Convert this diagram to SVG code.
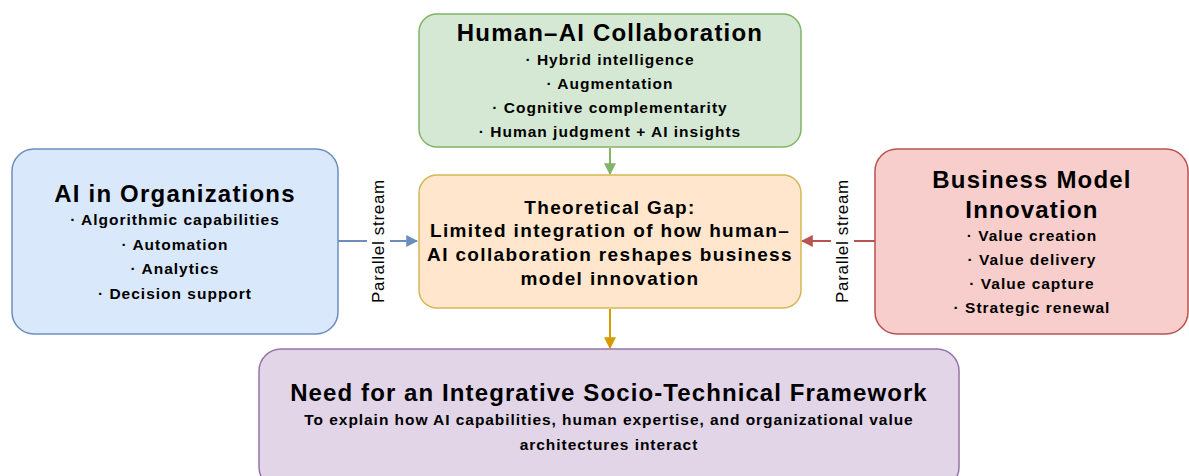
<svg xmlns="http://www.w3.org/2000/svg" width="1189" height="476" viewBox="0 0 1189 476">
  <style>
    .box { stroke-width: 1.5; }
    .t { font-family: "Liberation Sans", Arial, sans-serif; font-weight: bold; fill: #000; text-anchor: middle; }
    .title { font-size: 24px; letter-spacing: 1.2px; }
    .item { font-size: 15.5px; letter-spacing: 1px; }
    .gap { font-size: 19px; letter-spacing: 1.35px; }
    .big { font-size: 24px; letter-spacing: 1.1px; }
    .sub { font-size: 15.5px; letter-spacing: 0.95px; }
    .lbl { font-family: "Liberation Sans", Arial, sans-serif; font-size: 17px; letter-spacing: 0.7px; fill: #000; text-anchor: middle; }
    .edge { fill: none; stroke-width: 2; }
  </style>
  <defs>
    <marker id="arrGreen" viewBox="0 0 10 10" refX="9" refY="5" markerWidth="6" markerHeight="6" orient="auto" markerUnits="strokeWidth">
      <path d="M0,0 L10,5 L0,10 z" fill="#82b366"/>
    </marker>
    <marker id="arrBlue" viewBox="0 0 10 10" refX="9" refY="5" markerWidth="6" markerHeight="6" orient="auto" markerUnits="strokeWidth">
      <path d="M0,0 L10,5 L0,10 z" fill="#6c8ebf"/>
    </marker>
    <marker id="arrRed" viewBox="0 0 10 10" refX="9" refY="5" markerWidth="6" markerHeight="6" orient="auto" markerUnits="strokeWidth">
      <path d="M0,0 L10,5 L0,10 z" fill="#b85450"/>
    </marker>
    <marker id="arrOrange" viewBox="0 0 10 10" refX="9" refY="5" markerWidth="6" markerHeight="6" orient="auto" markerUnits="strokeWidth">
      <path d="M0,0 L10,5 L0,10 z" fill="#d79b00"/>
    </marker>
  </defs>

  <rect width="1189" height="476" fill="#ffffff"/>

  <g id="connectors">
    <line class="edge" x1="610" y1="148" x2="610" y2="174" stroke="#82b366" marker-end="url(#arrGreen)"/>
    <line class="edge" x1="338" y1="241" x2="417" y2="241" stroke="#6c8ebf" marker-end="url(#arrBlue)"/>
    <line class="edge" x1="875" y1="241" x2="802" y2="241" stroke="#b85450" marker-end="url(#arrRed)"/>
    <line class="edge" x1="610" y1="309" x2="610" y2="348" stroke="#d79b00" marker-end="url(#arrOrange)"/>
    <g id="label-left">
      <rect x="367" y="176" width="23" height="130" fill="#ffffff"/>
      <text class="lbl" transform="translate(384,241) rotate(-90)">Parallel stream</text>
    </g>
    <g id="label-right">
      <rect x="831" y="176" width="23" height="130" fill="#ffffff"/>
      <text class="lbl" transform="translate(848,241) rotate(-90)">Parallel stream</text>
    </g>
  </g>

  <g id="human-ai">
    <rect class="box" x="419" y="14" width="382" height="133" rx="18" fill="#d5e8d4" stroke="#82b366"/>
    <text class="t title" x="610" y="41">Human–AI Collaboration</text>
    <text class="t item" x="610" y="65">· Hybrid intelligence</text>
    <text class="t item" x="610" y="89">· Augmentation</text>
    <text class="t item" x="610" y="113">· Cognitive complementarity</text>
    <text class="t item" x="610" y="137">· Human judgment + AI insights</text>
  </g>

  <g id="ai-orgs">
    <rect class="box" x="12" y="149" width="326" height="185" rx="22" fill="#dae8fc" stroke="#6c8ebf"/>
    <text class="t title" x="175" y="202">AI in Organizations</text>
    <text class="t item" x="175" y="225">· Algorithmic capabilities</text>
    <text class="t item" x="175" y="250">· Automation</text>
    <text class="t item" x="175" y="274">· Analytics</text>
    <text class="t item" x="175" y="299">· Decision support</text>
  </g>

  <g id="theoretical-gap">
    <rect class="box" x="419" y="175" width="382" height="133" rx="18" fill="#ffe6cc" stroke="#d6b656"/>
    <text class="t gap" x="610" y="214">Theoretical Gap:</text>
    <text class="t gap" x="610" y="237">Limited integration of how human–</text>
    <text class="t gap" x="610" y="261">AI collaboration reshapes business</text>
    <text class="t gap" x="610" y="285">model innovation</text>
  </g>

  <g id="bmi">
    <rect class="box" x="875" y="149" width="313" height="185" rx="22" fill="#f8cecc" stroke="#b85450"/>
    <text class="t title" x="1032" y="188">Business Model</text>
    <text class="t title" x="1032" y="218">Innovation</text>
    <text class="t item" x="1032" y="241">· Value creation</text>
    <text class="t item" x="1032" y="265">· Value delivery</text>
    <text class="t item" x="1032" y="289">· Value capture</text>
    <text class="t item" x="1032" y="313">· Strategic renewal</text>
  </g>

  <g id="framework">
    <rect class="box" x="259" y="349" width="700" height="140" rx="22" fill="#e1d5e7" stroke="#9673a6"/>
    <text class="t big" x="609" y="401">Need for an Integrative Socio-Technical Framework</text>
    <text class="t sub" x="609" y="425">To explain how AI capabilities, human expertise, and organizational value</text>
    <text class="t sub" x="609" y="450">architectures interact</text>
  </g>
</svg>
